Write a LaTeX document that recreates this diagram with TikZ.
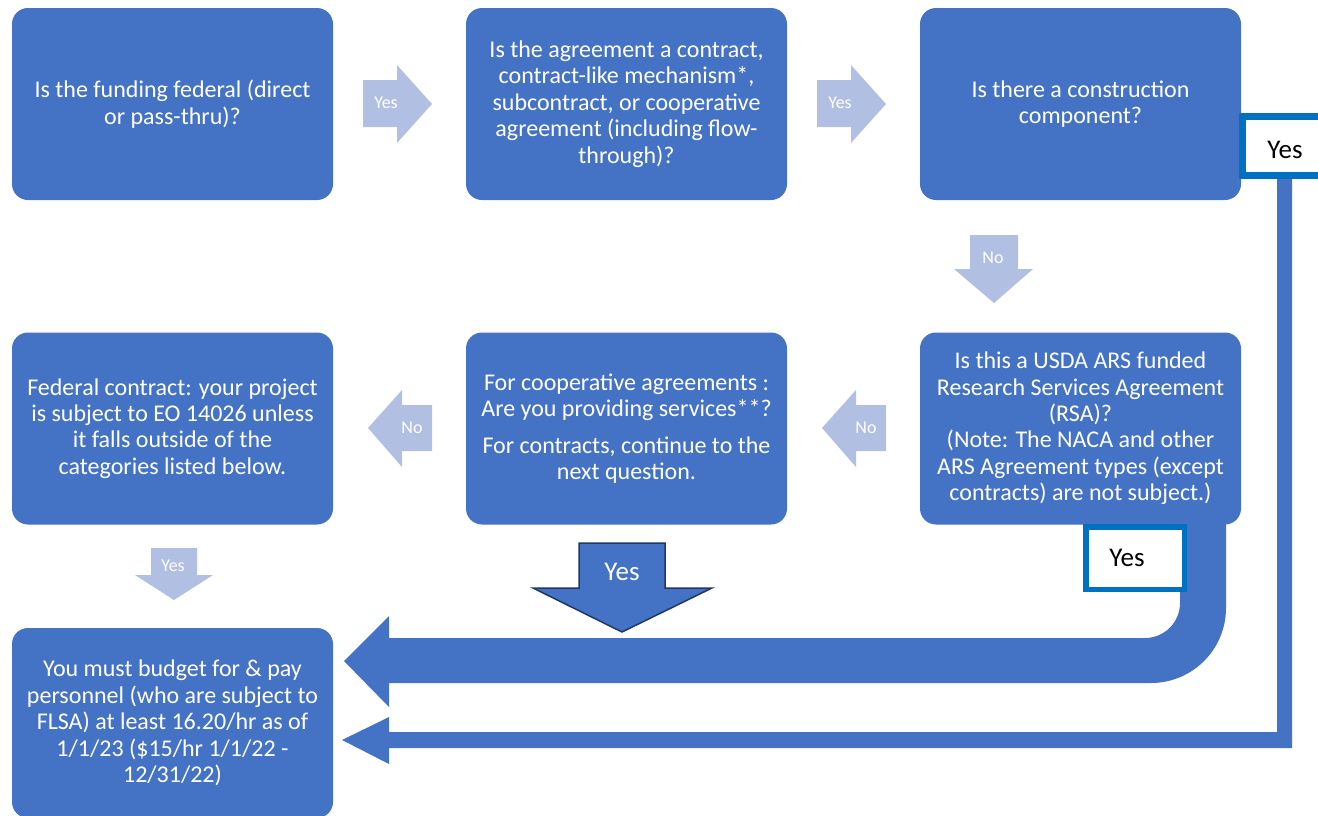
\documentclass[tikz,border=0pt]{standalone}
\usepackage{fontspec}
\setmainfont{Carlito}
\definecolor{boxblue}{HTML}{4472C4}
\definecolor{lightarrow}{HTML}{B1BFE2}
\definecolor{yesborder}{HTML}{0070C0}
\definecolor{navyline}{HTML}{1F3864}
\begin{document}
\begin{tikzpicture}[x=1pt,y=-1pt,
  qbox/.style={fill=boxblue, rounded corners=16pt, minimum width=321pt, minimum height=192pt,
    text=white, align=center, font=\fontsize{24}{26.4}\selectfont, inner sep=0pt},
  lightarr/.style={fill=lightarrow},
  bigarr/.style={fill=boxblue},
  smalllabel/.style={text=white, font=\fontsize{18}{20}\selectfont, inner sep=0pt},
  biglabel/.style={font=\fontsize{27}{30}\selectfont, inner sep=0pt},
  yesframe/.style={draw=yesborder, fill=white, inner sep=0pt}
]
\useasboundingbox (0,0) rectangle (1318,815);

% long connectors (block arrows)
\fill[bigarr] (1226,515) -- (1226,608) .. controls (1226,649.4) and (1192.4,683) .. (1151,683)
  -- (389,683) -- (389,707) -- (344,661) -- (389,616) -- (389,638) -- (1145,638)
  .. controls (1164.3,638) and (1180,622.3) .. (1180,603) -- (1180,515) -- cycle;
\fill[bigarr] (1277,170) -- (1292,170) -- (1292,748) -- (389,748) -- (389,764) -- (342,740)
  -- (389,717) -- (389,732) -- (1277,732) -- cycle;

% question boxes
\node[qbox] (b1) at (172.5,104) {Is the funding federal (direct\\or pass-thru)?};
\node[qbox] (b2) at (626.5,104) {Is the agreement a contract,\\contract-like mechanism*,\\subcontract, or cooperative\\agreement (including flow-\\through)?};
\node[qbox] (b3) at (1080.5,104) {Is there a construction\\component?};
\node[qbox] (b4) at (172.5,428.5) {Federal contract: your project\\is subject to EO 14026 unless\\it falls outside of the\\categories listed below.};
\node[qbox] (b5) at (626.5,428.5) {For cooperative agreements :\\Are you providing services**?\\[10pt]For contracts, continue to the\\next question.};
\node[qbox] (b6) at (1080.5,428.5) {Is this a USDA ARS funded\\Research Services Agreement\\(RSA)?\\(Note: The NACA and other\\ARS Agreement types (except\\contracts) are not subject.)};
\node[qbox, minimum height=190pt] (b7) at (172.5,723) {You must budget for \& pay\\personnel (who are subject to\\FLSA) at least 16.20/hr as of\\1/1/23 (\$15/hr 1/1/22 -\\12/31/22)};

% light arrows
\fill[lightarr] (363,80) -- (397,80) -- (397,65) -- (432,104) -- (397,143) -- (397,127) -- (363,127) -- cycle;
\node[smalllabel] (l1) at (386,103) {Yes};
\fill[lightarr] (817,80) -- (851,80) -- (851,65) -- (886,104) -- (851,143) -- (851,127) -- (817,127) -- cycle;
\node[smalllabel] (l2) at (840,103) {Yes};
\fill[lightarr] (970,235) -- (1018,235) -- (1018,269) -- (1033,269) -- (994,303) -- (954,269) -- (970,269) -- cycle;
\node[smalllabel] (l3) at (993,258) {No};
\fill[lightarr] (886,405) -- (856,405) -- (856,390) -- (822,428) -- (856,467) -- (856,451) -- (886,451) -- cycle;
\node[smalllabel] (l4) at (866,428) {No};
\fill[lightarr] (432,405) -- (402,405) -- (402,390) -- (368,428) -- (402,467) -- (402,451) -- (432,451) -- cycle;
\node[smalllabel] (l5) at (412,428) {No};
\fill[lightarr] (151,548) -- (197,548) -- (197,575) -- (213,575) -- (174,600) -- (135,575) -- (151,575) -- cycle;
\node[smalllabel] (l6) at (173,566) {Yes};

% big Yes arrow
\filldraw[fill=boxblue, draw=navyline, line width=1.5pt, line join=miter]
  (579,543) -- (665,543) -- (665,588) -- (712,588) -- (622,632) -- (533,588) -- (579,588) -- cycle;
\node[biglabel, text=white] (l7) at (622,572) {Yes};

% Yes frames
\node[yesframe, line width=7pt, minimum width=83pt, minimum height=59pt] (y1) at (1284,146) {};
\node[biglabel] (y1t) at (1285,150) {Yes};
\node[yesframe, line width=5.5pt, minimum width=98.5pt, minimum height=62.5pt] (y2) at (1135,558) {};
\node[biglabel] (y2t) at (1127,558) {Yes};
\end{tikzpicture}
\end{document}
